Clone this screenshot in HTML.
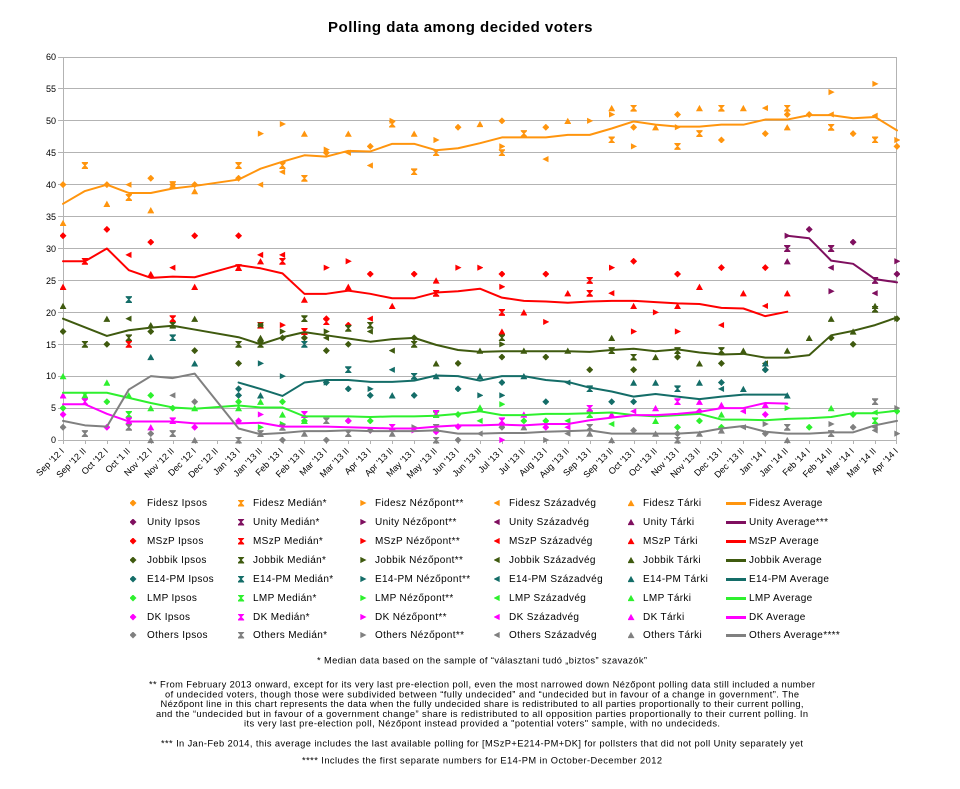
<!DOCTYPE html>
<html><head><meta charset="utf-8">
<style>
html,body{margin:0;padding:0;background:#fff}
body{width:960px;height:789px;position:relative;overflow:hidden;font-family:"Liberation Sans",Arial,sans-serif;color:#000}
.title{position:absolute;left:0;width:921px;top:18px;text-align:center;font-weight:bold;font-size:15px;letter-spacing:0.5px;line-height:19px}
.m{position:absolute;width:7px;height:7px;left:calc(59.5px + var(--i)*21.947px);top:calc(436.5px - var(--v)*6.383px)}
.g{position:absolute;width:7px;height:7px;margin:0.5px 0 0 0.5px}
.d{clip-path:polygon(50% 0,100% 50%,50% 100%,0 50%)}
.h{clip-path:polygon(5% 0,95% 0,95% 15%,60% 50%,95% 85%,95% 100%,5% 100%,5% 85%,40% 50%,5% 15%)}
.r{clip-path:polygon(12% 6%,100% 50%,12% 94%)}
.l{clip-path:polygon(88% 6%,0 50%,88% 94%)}
.t{clip-path:polygon(50% 5%,100% 95%,0 95%)}
.F{background:#ff950e}.U{background:#7f0f5f}.M{background:#ff0000}.J{background:#3f5a0f}
.E{background:#146d68}.L{background:#2ef02e}.D{background:#ff00ff}.O{background:#808080}
.x{position:absolute;top:446px;left:calc(-11px + var(--i)*21.947px);width:70px;text-align:right;font-size:9px;line-height:10px;white-space:nowrap;transform-origin:100% 0;transform:rotate(-45deg)}
.y{position:absolute;left:16px;width:40px;text-align:right;font-size:9px;line-height:12px}
.lt{position:absolute;font-size:10px;letter-spacing:0.35px;line-height:13px;white-space:nowrap}
.ln{position:absolute;left:726px;width:20px;height:3px}
</style></head><body>
<div class="title">Polling data among decided voters</div>

<svg width="960" height="789" style="position:absolute;left:0;top:0">
<g stroke="#b3b3b3" stroke-width="1" fill="none">
<path d="M58 57.5H897M58 88.5H897M58 120.5H897M58 152.5H897M58 184.5H897M58 216.5H897M58 248.5H897M58 280.5H897M58 312.5H897M58 344.5H897M58 376.5H897M58 408.5H897M58 440.5H897"/>
<path d="M63.5 57V444M896.5 57V444"/>
<path d="M85.5 440v4M107.5 440v4M129.5 440v4M151.5 440v4M173.5 440v4M195.5 440v4M217.5 440v4M239.5 440v4M261.5 440v4M283.5 440v4M304.5 440v4M326.5 440v4M348.5 440v4M370.5 440v4M392.5 440v4M414.5 440v4M436.5 440v4M458.5 440v4M480.5 440v4M502.5 440v4M524.5 440v4M546.5 440v4M568.5 440v4M590.5 440v4M612.5 440v4M634.5 440v4M656.5 440v4M678.5 440v4M700.5 440v4M721.5 440v4M743.5 440v4M765.5 440v4M787.5 440v4M809.5 440v4M831.5 440v4M853.5 440v4M875.5 440v4"/>
</g>
</svg>

<div class="y" style="top:51px">60</div>
<div class="y" style="top:83px">55</div>
<div class="y" style="top:115px">50</div>
<div class="y" style="top:147px">45</div>
<div class="y" style="top:179px">40</div>
<div class="y" style="top:211px">35</div>
<div class="y" style="top:243px">30</div>
<div class="y" style="top:275px">25</div>
<div class="y" style="top:307px">20</div>
<div class="y" style="top:339px">15</div>
<div class="y" style="top:370px">10</div>
<div class="y" style="top:402px">5</div>
<div class="y" style="top:434px">0</div>

<!-- markers -->
<div>
<!-- Fidesz -->
<i class="m d F" style="--i:0;--v:40"></i><i class="m d F" style="--i:2;--v:40"></i><i class="m d F" style="--i:4;--v:41"></i><i class="m d F" style="--i:5;--v:40"></i><i class="m d F" style="--i:6;--v:40"></i><i class="m d F" style="--i:8;--v:41"></i><i class="m d F" style="--i:12;--v:45"></i><i class="m d F" style="--i:14;--v:46"></i><i class="m d F" style="--i:18;--v:49"></i><i class="m d F" style="--i:20;--v:50"></i><i class="m d F" style="--i:22;--v:49"></i><i class="m d F" style="--i:26;--v:49"></i><i class="m d F" style="--i:28;--v:51"></i><i class="m d F" style="--i:30;--v:47"></i><i class="m d F" style="--i:32;--v:48"></i><i class="m d F" style="--i:33;--v:51"></i><i class="m d F" style="--i:34;--v:51"></i><i class="m d F" style="--i:36;--v:48"></i><i class="m d F" style="--i:38;--v:46"></i>
<i class="m h F" style="--i:1;--v:43"></i><i class="m h F" style="--i:3;--v:38"></i><i class="m h F" style="--i:5;--v:40"></i><i class="m h F" style="--i:8;--v:43"></i><i class="m h F" style="--i:10;--v:43"></i><i class="m h F" style="--i:11;--v:41"></i><i class="m h F" style="--i:15;--v:49.5"></i><i class="m h F" style="--i:16;--v:42"></i><i class="m h F" style="--i:17;--v:45"></i><i class="m h F" style="--i:20;--v:45"></i><i class="m h F" style="--i:21;--v:48"></i><i class="m h F" style="--i:25;--v:47"></i><i class="m h F" style="--i:26;--v:52"></i><i class="m h F" style="--i:28;--v:46"></i><i class="m h F" style="--i:29;--v:48"></i><i class="m h F" style="--i:30;--v:52"></i><i class="m h F" style="--i:33;--v:52"></i><i class="m h F" style="--i:35;--v:49"></i><i class="m h F" style="--i:37;--v:47"></i>
<i class="m r F" style="--i:9;--v:48"></i><i class="m r F" style="--i:10;--v:49.5"></i><i class="m r F" style="--i:12;--v:45.5"></i><i class="m r F" style="--i:15;--v:50"></i><i class="m r F" style="--i:17;--v:47"></i><i class="m r F" style="--i:20;--v:46"></i><i class="m r F" style="--i:24;--v:50"></i><i class="m r F" style="--i:25;--v:51"></i><i class="m r F" style="--i:26;--v:46"></i><i class="m r F" style="--i:28;--v:49"></i><i class="m r F" style="--i:35;--v:54.5"></i><i class="m r F" style="--i:37;--v:55.8"></i><i class="m r F" style="--i:38;--v:47"></i>
<i class="m l F" style="--i:3;--v:40"></i><i class="m l F" style="--i:9;--v:40"></i><i class="m l F" style="--i:10;--v:42"></i><i class="m l F" style="--i:13;--v:45"></i><i class="m l F" style="--i:14;--v:43"></i><i class="m l F" style="--i:22;--v:44"></i><i class="m l F" style="--i:32;--v:52"></i><i class="m l F" style="--i:35;--v:51"></i><i class="m l F" style="--i:37;--v:50.8"></i>
<i class="m t F" style="--i:0;--v:34"></i><i class="m t F" style="--i:2;--v:37"></i><i class="m t F" style="--i:4;--v:36"></i><i class="m t F" style="--i:6;--v:39"></i><i class="m t F" style="--i:11;--v:48"></i><i class="m t F" style="--i:13;--v:48"></i><i class="m t F" style="--i:16;--v:48"></i><i class="m t F" style="--i:19;--v:49.5"></i><i class="m t F" style="--i:23;--v:50"></i><i class="m t F" style="--i:25;--v:52"></i><i class="m t F" style="--i:27;--v:49"></i><i class="m t F" style="--i:29;--v:52"></i><i class="m t F" style="--i:31;--v:52"></i><i class="m t F" style="--i:33;--v:49"></i>
<!-- Unity -->
<i class="m d U" style="--i:34;--v:33"></i><i class="m d U" style="--i:36;--v:31"></i><i class="m d U" style="--i:38;--v:26"></i>
<i class="m h U" style="--i:33;--v:30"></i><i class="m h U" style="--i:35;--v:30"></i><i class="m h U" style="--i:37;--v:25"></i>
<i class="m r U" style="--i:33;--v:32"></i><i class="m r U" style="--i:35;--v:23.3"></i><i class="m r U" style="--i:38;--v:28"></i>
<i class="m l U" style="--i:35;--v:27"></i><i class="m l U" style="--i:37;--v:23"></i>
<i class="m t U" style="--i:33;--v:28"></i>
<!-- MSzP -->
<i class="m d M" style="--i:0;--v:32"></i><i class="m d M" style="--i:2;--v:33"></i><i class="m d M" style="--i:4;--v:31"></i><i class="m d M" style="--i:6;--v:32"></i><i class="m d M" style="--i:8;--v:32"></i><i class="m d M" style="--i:14;--v:26"></i><i class="m d M" style="--i:16;--v:26"></i><i class="m d M" style="--i:20;--v:26"></i><i class="m d M" style="--i:22;--v:26"></i><i class="m d M" style="--i:26;--v:28"></i><i class="m d M" style="--i:28;--v:26"></i><i class="m d M" style="--i:30;--v:27"></i><i class="m d M" style="--i:32;--v:27"></i><i class="m d M" style="--i:13;--v:18"></i><i class="m d M" style="--i:12;--v:19"></i>
<i class="m h M" style="--i:1;--v:28"></i><i class="m h M" style="--i:3;--v:15"></i><i class="m h M" style="--i:5;--v:19"></i><i class="m h M" style="--i:8;--v:27"></i><i class="m h M" style="--i:9;--v:18"></i><i class="m h M" style="--i:10;--v:28"></i><i class="m h M" style="--i:11;--v:17"></i><i class="m h M" style="--i:17;--v:23"></i><i class="m h M" style="--i:20;--v:20"></i><i class="m h M" style="--i:24;--v:25"></i><i class="m h M" style="--i:24;--v:23"></i><i class="m h M" style="--i:12;--v:18.5"></i>
<i class="m r M" style="--i:10;--v:18"></i><i class="m r M" style="--i:12;--v:27"></i><i class="m r M" style="--i:13;--v:28"></i><i class="m r M" style="--i:18;--v:27"></i><i class="m r M" style="--i:19;--v:27"></i><i class="m r M" style="--i:20;--v:24"></i><i class="m r M" style="--i:22;--v:18.5"></i><i class="m r M" style="--i:25;--v:27"></i><i class="m r M" style="--i:26;--v:17"></i><i class="m r M" style="--i:27;--v:20"></i><i class="m r M" style="--i:28;--v:17"></i>
<i class="m l M" style="--i:3;--v:29"></i><i class="m l M" style="--i:5;--v:27"></i><i class="m l M" style="--i:9;--v:29"></i><i class="m l M" style="--i:10;--v:29"></i><i class="m l M" style="--i:14;--v:19"></i><i class="m l M" style="--i:30;--v:18"></i><i class="m l M" style="--i:32;--v:21"></i><i class="m l M" style="--i:25;--v:23"></i>
<i class="m t M" style="--i:0;--v:24"></i><i class="m t M" style="--i:4;--v:26"></i><i class="m t M" style="--i:6;--v:24"></i><i class="m t M" style="--i:8;--v:27"></i><i class="m t M" style="--i:9;--v:28"></i><i class="m t M" style="--i:11;--v:22"></i><i class="m t M" style="--i:13;--v:24"></i><i class="m t M" style="--i:15;--v:21"></i><i class="m t M" style="--i:17;--v:25"></i><i class="m t M" style="--i:21;--v:20"></i><i class="m t M" style="--i:23;--v:23"></i><i class="m t M" style="--i:26;--v:21"></i><i class="m t M" style="--i:28;--v:21"></i><i class="m t M" style="--i:29;--v:24"></i><i class="m t M" style="--i:31;--v:23"></i><i class="m t M" style="--i:33;--v:23"></i><i class="m t M" style="--i:20;--v:17"></i>
<!-- Jobbik -->
<i class="m d J" style="--i:0;--v:17"></i><i class="m d J" style="--i:2;--v:15"></i><i class="m d J" style="--i:4;--v:17"></i><i class="m d J" style="--i:6;--v:14"></i><i class="m d J" style="--i:8;--v:12"></i><i class="m d J" style="--i:10;--v:16"></i><i class="m d J" style="--i:11;--v:16"></i><i class="m d J" style="--i:12;--v:14"></i><i class="m d J" style="--i:13;--v:15"></i><i class="m d J" style="--i:16;--v:16"></i><i class="m d J" style="--i:18;--v:12"></i><i class="m d J" style="--i:20;--v:13"></i><i class="m d J" style="--i:22;--v:13"></i><i class="m d J" style="--i:24;--v:11"></i><i class="m d J" style="--i:26;--v:11"></i><i class="m d J" style="--i:28;--v:13"></i><i class="m d J" style="--i:30;--v:12"></i><i class="m d J" style="--i:32;--v:11"></i><i class="m d J" style="--i:35;--v:16"></i><i class="m d J" style="--i:36;--v:15"></i><i class="m d J" style="--i:38;--v:19"></i>
<i class="m h J" style="--i:1;--v:15"></i><i class="m h J" style="--i:3;--v:16"></i><i class="m h J" style="--i:5;--v:18"></i><i class="m h J" style="--i:8;--v:15"></i><i class="m h J" style="--i:9;--v:15"></i><i class="m h J" style="--i:11;--v:19"></i><i class="m h J" style="--i:13;--v:17.5"></i><i class="m h J" style="--i:14;--v:18"></i><i class="m h J" style="--i:16;--v:15"></i><i class="m h J" style="--i:20;--v:16"></i><i class="m h J" style="--i:25;--v:14"></i><i class="m h J" style="--i:26;--v:13"></i><i class="m h J" style="--i:28;--v:14"></i><i class="m h J" style="--i:30;--v:14"></i><i class="m h J" style="--i:37;--v:20.5"></i>
<i class="m r J" style="--i:9;--v:18"></i><i class="m r J" style="--i:10;--v:17"></i><i class="m r J" style="--i:12;--v:17"></i><i class="m r J" style="--i:20;--v:15"></i><i class="m r J" style="--i:38;--v:19"></i>
<i class="m l J" style="--i:3;--v:19"></i><i class="m l J" style="--i:9;--v:18"></i><i class="m l J" style="--i:12;--v:16"></i><i class="m l J" style="--i:14;--v:17"></i><i class="m l J" style="--i:15;--v:14"></i><i class="m l J" style="--i:32;--v:12"></i>
<i class="m t J" style="--i:0;--v:21"></i><i class="m t J" style="--i:2;--v:19"></i><i class="m t J" style="--i:4;--v:18"></i><i class="m t J" style="--i:6;--v:19"></i><i class="m t J" style="--i:9;--v:16"></i><i class="m t J" style="--i:17;--v:12"></i><i class="m t J" style="--i:19;--v:14"></i><i class="m t J" style="--i:21;--v:14"></i><i class="m t J" style="--i:23;--v:14"></i><i class="m t J" style="--i:25;--v:16"></i><i class="m t J" style="--i:27;--v:13"></i><i class="m t J" style="--i:29;--v:12"></i><i class="m t J" style="--i:31;--v:14"></i><i class="m t J" style="--i:33;--v:14"></i><i class="m t J" style="--i:34;--v:16"></i><i class="m t J" style="--i:35;--v:19"></i><i class="m t J" style="--i:36;--v:17"></i><i class="m t J" style="--i:37;--v:21"></i>
<!-- E14-PM -->
<i class="m d E" style="--i:8;--v:8"></i><i class="m d E" style="--i:8;--v:7"></i><i class="m d E" style="--i:12;--v:9"></i><i class="m d E" style="--i:13;--v:8"></i><i class="m d E" style="--i:14;--v:7"></i><i class="m d E" style="--i:16;--v:7"></i><i class="m d E" style="--i:18;--v:8"></i><i class="m d E" style="--i:20;--v:9"></i><i class="m d E" style="--i:22;--v:6"></i><i class="m d E" style="--i:25;--v:6"></i><i class="m d E" style="--i:26;--v:6"></i><i class="m d E" style="--i:30;--v:9"></i><i class="m d E" style="--i:32;--v:11"></i>
<i class="m h E" style="--i:3;--v:22"></i><i class="m h E" style="--i:5;--v:16"></i><i class="m h E" style="--i:11;--v:15"></i><i class="m h E" style="--i:13;--v:11"></i><i class="m h E" style="--i:16;--v:10"></i><i class="m h E" style="--i:24;--v:8"></i><i class="m h E" style="--i:28;--v:8"></i>
<i class="m r E" style="--i:9;--v:12"></i><i class="m r E" style="--i:10;--v:10"></i><i class="m r E" style="--i:12;--v:9"></i><i class="m r E" style="--i:14;--v:8"></i><i class="m r E" style="--i:19;--v:7"></i><i class="m r E" style="--i:20;--v:7"></i>
<i class="m l E" style="--i:15;--v:11"></i><i class="m l E" style="--i:23;--v:9"></i><i class="m l E" style="--i:30;--v:8"></i>
<i class="m t E" style="--i:4;--v:13"></i><i class="m t E" style="--i:6;--v:12"></i><i class="m t E" style="--i:9;--v:7"></i><i class="m t E" style="--i:15;--v:7"></i><i class="m t E" style="--i:17;--v:10"></i><i class="m t E" style="--i:19;--v:10"></i><i class="m t E" style="--i:21;--v:10"></i><i class="m t E" style="--i:26;--v:9"></i><i class="m t E" style="--i:27;--v:9"></i><i class="m t E" style="--i:29;--v:9"></i><i class="m t E" style="--i:31;--v:8"></i><i class="m t E" style="--i:32;--v:12"></i><i class="m t E" style="--i:33;--v:7"></i>
<!-- LMP -->
<i class="m d L" style="--i:0;--v:5"></i><i class="m d L" style="--i:2;--v:6"></i><i class="m d L" style="--i:4;--v:7"></i><i class="m d L" style="--i:5;--v:5"></i><i class="m d L" style="--i:8;--v:6"></i><i class="m d L" style="--i:10;--v:6"></i><i class="m d L" style="--i:13;--v:3"></i><i class="m d L" style="--i:14;--v:3"></i><i class="m d L" style="--i:18;--v:4"></i><i class="m d L" style="--i:22;--v:3"></i><i class="m d L" style="--i:28;--v:2"></i><i class="m d L" style="--i:29;--v:3"></i><i class="m d L" style="--i:30;--v:2"></i><i class="m d L" style="--i:34;--v:2"></i><i class="m d L" style="--i:36;--v:4"></i><i class="m d L" style="--i:38;--v:4.5"></i><i class="m d L" style="--i:11;--v:3"></i><i class="m d L" style="--i:21;--v:3"></i>
<i class="m h L" style="--i:1;--v:7"></i><i class="m h L" style="--i:3;--v:4"></i><i class="m h L" style="--i:24;--v:4"></i><i class="m h L" style="--i:37;--v:3"></i><i class="m h L" style="--i:17;--v:4"></i>
<i class="m r L" style="--i:9;--v:2"></i><i class="m r L" style="--i:10;--v:2.5"></i><i class="m r L" style="--i:20;--v:5.6"></i><i class="m r L" style="--i:33;--v:5"></i>
<i class="m l L" style="--i:19;--v:3"></i><i class="m l L" style="--i:23;--v:3"></i><i class="m l L" style="--i:25;--v:2.5"></i><i class="m l L" style="--i:37;--v:4.3"></i>
<i class="m t L" style="--i:0;--v:10"></i><i class="m t L" style="--i:1;--v:7"></i><i class="m t L" style="--i:2;--v:9"></i><i class="m t L" style="--i:3;--v:7"></i><i class="m t L" style="--i:4;--v:5"></i><i class="m t L" style="--i:6;--v:5"></i><i class="m t L" style="--i:8;--v:5"></i><i class="m t L" style="--i:9;--v:6"></i><i class="m t L" style="--i:10;--v:4"></i><i class="m t L" style="--i:11;--v:3"></i><i class="m t L" style="--i:19;--v:5.1"></i><i class="m t L" style="--i:27;--v:3"></i><i class="m t L" style="--i:30;--v:4"></i><i class="m t L" style="--i:35;--v:5"></i>
<!-- DK -->
<i class="m d D" style="--i:0;--v:4"></i><i class="m d D" style="--i:2;--v:2"></i><i class="m d D" style="--i:6;--v:2"></i><i class="m d D" style="--i:8;--v:3"></i><i class="m d D" style="--i:13;--v:3"></i><i class="m d D" style="--i:14;--v:1.5"></i><i class="m d D" style="--i:17;--v:1.3"></i><i class="m d D" style="--i:18;--v:2.1"></i><i class="m d D" style="--i:22;--v:2"></i><i class="m d D" style="--i:29;--v:4.5"></i><i class="m d D" style="--i:32;--v:4"></i>
<i class="m h D" style="--i:1;--v:6"></i><i class="m h D" style="--i:3;--v:3"></i><i class="m h D" style="--i:5;--v:3"></i><i class="m h D" style="--i:11;--v:4"></i><i class="m h D" style="--i:15;--v:2"></i><i class="m h D" style="--i:17;--v:4.2"></i><i class="m h D" style="--i:20;--v:3"></i><i class="m h D" style="--i:24;--v:5"></i><i class="m h D" style="--i:28;--v:6"></i>
<i class="m r D" style="--i:9;--v:4"></i><i class="m r D" style="--i:16;--v:1.5"></i><i class="m r D" style="--i:20;--v:0"></i>
<i class="m l D" style="--i:23;--v:2"></i><i class="m l D" style="--i:26;--v:4.5"></i><i class="m l D" style="--i:31;--v:4.5"></i>
<i class="m t D" style="--i:0;--v:7"></i><i class="m t D" style="--i:4;--v:2"></i><i class="m t D" style="--i:21;--v:4"></i><i class="m t D" style="--i:25;--v:4"></i><i class="m t D" style="--i:27;--v:5"></i><i class="m t D" style="--i:29;--v:6"></i><i class="m t D" style="--i:30;--v:5.5"></i><i class="m t D" style="--i:32;--v:5.5"></i>
<!-- Others -->
<i class="m d O" style="--i:0;--v:2"></i><i class="m d O" style="--i:4;--v:1"></i><i class="m d O" style="--i:6;--v:6"></i><i class="m d O" style="--i:10;--v:0"></i><i class="m d O" style="--i:12;--v:0"></i><i class="m d O" style="--i:14;--v:1.5"></i><i class="m d O" style="--i:18;--v:0"></i><i class="m d O" style="--i:20;--v:2"></i><i class="m d O" style="--i:26;--v:1.5"></i><i class="m d O" style="--i:28;--v:1"></i><i class="m d O" style="--i:32;--v:1"></i><i class="m d O" style="--i:36;--v:2"></i>
<i class="m h O" style="--i:1;--v:1"></i><i class="m h O" style="--i:3;--v:2"></i><i class="m h O" style="--i:5;--v:1"></i><i class="m h O" style="--i:8;--v:0"></i><i class="m h O" style="--i:9;--v:1"></i><i class="m h O" style="--i:10;--v:2"></i><i class="m h O" style="--i:12;--v:3"></i><i class="m h O" style="--i:13;--v:1"></i><i class="m h O" style="--i:17;--v:2"></i><i class="m h O" style="--i:17;--v:0"></i><i class="m h O" style="--i:24;--v:2"></i><i class="m h O" style="--i:28;--v:0"></i><i class="m h O" style="--i:33;--v:2"></i><i class="m h O" style="--i:35;--v:1"></i><i class="m h O" style="--i:37;--v:6"></i>
<i class="m r O" style="--i:16;--v:2"></i><i class="m r O" style="--i:22;--v:0"></i><i class="m r O" style="--i:32;--v:2.5"></i><i class="m r O" style="--i:35;--v:2.5"></i><i class="m r O" style="--i:38;--v:5"></i><i class="m r O" style="--i:38;--v:1"></i>
<i class="m l O" style="--i:5;--v:7"></i><i class="m l O" style="--i:19;--v:1"></i><i class="m l O" style="--i:23;--v:1"></i><i class="m l O" style="--i:31;--v:2"></i><i class="m l O" style="--i:37;--v:2"></i><i class="m l O" style="--i:37;--v:1.5"></i>
<i class="m t O" style="--i:4;--v:0"></i><i class="m t O" style="--i:6;--v:0"></i><i class="m t O" style="--i:11;--v:1"></i><i class="m t O" style="--i:15;--v:1"></i><i class="m t O" style="--i:21;--v:2"></i><i class="m t O" style="--i:24;--v:1"></i><i class="m t O" style="--i:25;--v:0"></i><i class="m t O" style="--i:27;--v:1"></i><i class="m t O" style="--i:29;--v:1"></i><i class="m t O" style="--i:30;--v:1.5"></i><i class="m t O" style="--i:33;--v:0"></i>
</div>

<!-- average lines -->
<svg style="position:absolute;left:63px;top:57px;overflow:visible" width="834" height="383" viewBox="0 -60 38 60" preserveAspectRatio="none">
<g fill="none" stroke-width="2" stroke-linejoin="round" stroke-linecap="round">
<polyline vector-effect="non-scaling-stroke" stroke="#ff950e" points="0,-37 1,-39 2,-40 3,-38.7 4,-38.7 5,-39.4 6,-39.8 8,-40.8 9,-42.5 10,-43.6 11,-44.6 12,-44.4 13,-45.3 14,-45.2 15,-46.4 16,-46.4 17,-45.4 18,-45.7 19,-46.5 20,-47.4 21,-47.4 22,-47.4 23,-47.8 24,-47.8 25,-48.8 26,-49.9 27,-49.4 28,-49.1 29,-49.1 30,-49.4 31,-49.4 32,-50.2 33,-50.2 34,-50.9 35,-50.9 36,-50.4 37,-50.6 38,-48.5"/>
<polyline vector-effect="non-scaling-stroke" stroke="#7f0f5f" points="33,-32 34,-31.6 35,-28.1 36,-27.6 37,-25.2 38,-24.7"/>
<polyline vector-effect="non-scaling-stroke" stroke="#ff0000" points="0,-28 1,-28 2,-30 3,-26.6 4,-25.4 5,-25.6 6,-25.5 8,-27.4 9,-26.9 10,-26.1 11,-22.9 12,-22.9 13,-23.4 14,-22.9 15,-22.2 16,-22.2 17,-23.1 18,-23.3 19,-23.7 20,-22.3 21,-21.8 22,-21.7 23,-21.5 24,-21.7 25,-21.8 26,-21.8 27,-21.6 28,-21.4 29,-21.3 30,-20.7 31,-20.6 32,-19.4 33,-20.1"/>
<polyline vector-effect="non-scaling-stroke" stroke="#3f5a0f" points="0,-19 2,-16.3 3,-17.2 4,-17.6 5,-17.9 6,-17.3 8,-16.1 9,-15 10,-16.1 11,-16.9 12,-16.4 13,-15.9 14,-15.4 15,-15.8 16,-16 17,-14.9 18,-14.1 19,-13.8 20,-13.9 21,-13.9 22,-13.9 23,-13.9 24,-13.8 25,-14.1 26,-14.3 27,-13.9 28,-14.2 29,-13.7 30,-13.4 31,-13.5 32,-12.9 33,-12.9 34,-13.3 35,-16.4 36,-17.1 37,-18 38,-19.2"/>
<polyline vector-effect="non-scaling-stroke" stroke="#146d68" points="8,-9 9,-8 10,-6.9 11,-9 12,-9.4 13,-9.4 14,-9.1 15,-9.1 16,-9.3 17,-10.1 18,-10 19,-9.3 20,-10 21,-10 22,-9.4 23,-9.1 24,-8.2 25,-7.6 26,-6.8 27,-7.2 28,-6.8 29,-6.4 30,-6.8 31,-7.1 32,-7.1 33,-7.1"/>
<polyline vector-effect="non-scaling-stroke" stroke="#2ef02e" points="0,-7.4 1,-7.4 2,-7.4 3,-6.6 4,-5.8 5,-5.1 6,-4.9 8,-5.4 9,-5.1 10,-5.1 11,-3.7 12,-3.7 13,-3.7 14,-3.6 15,-3.7 16,-3.7 17,-3.8 18,-4.1 19,-4.5 20,-3.9 21,-3.9 22,-4.1 23,-4.1 24,-4.2 25,-4.3 26,-3.9 27,-3.7 28,-3.9 29,-4.1 30,-3.2 31,-3.2 32,-3.1 33,-3.3 34,-3.4 35,-3.6 36,-4.2 37,-4.2 38,-4.6"/>
<polyline vector-effect="non-scaling-stroke" stroke="#ff00ff" points="0,-5.6 1,-5.6 2,-4.1 3,-2.9 4,-2.9 5,-2.9 6,-2.6 8,-2.6 9,-2.7 10,-2.1 11,-2.1 12,-2.1 13,-2 14,-1.9 15,-1.8 16,-1.8 17,-2.1 18,-2.3 19,-2.3 20,-2.4 21,-2.3 22,-2.5 23,-2.5 24,-3.1 25,-3.5 26,-3.9 27,-3.9 28,-4.1 29,-4.4 30,-5 31,-5 32,-5.8 33,-5.7"/>
<polyline vector-effect="non-scaling-stroke" stroke="#808080" points="0,-3 1,-2.3 2,-2.1 3,-7.9 4,-10 5,-9.7 6,-10.4 8,-1.8 9,-0.9 10,-1.1 11,-1.4 12,-1.4 13,-1.5 14,-1.4 15,-1.4 16,-1.4 17,-1.5 18,-1 19,-1 20,-1.1 21,-1.1 22,-1.3 23,-1.4 24,-1.5 25,-1 26,-1 27,-1 28,-1 29,-1.2 30,-1.8 31,-2.2 32,-1.3 33,-1 34,-1 35,-1.2 36,-1.2 37,-2.3 38,-3"/>
</g>
</svg>

<!-- x labels -->
<div class="x" style="--i:0">Sep '12 I</div><div class="x" style="--i:1">Sep '12 II</div><div class="x" style="--i:2">Oct '12 I</div><div class="x" style="--i:3">Oct '1 II</div><div class="x" style="--i:4">Nov '12 I</div><div class="x" style="--i:5">Nov '12 II</div><div class="x" style="--i:6">Dec '12 I</div><div class="x" style="--i:7">Dec '12 II</div><div class="x" style="--i:8">Jan '13 I</div><div class="x" style="--i:9">Jan '13 II</div><div class="x" style="--i:10">Feb '13 I</div><div class="x" style="--i:11">Feb '13 II</div><div class="x" style="--i:12">Mar '13 I</div><div class="x" style="--i:13">Mar '13 II</div><div class="x" style="--i:14">Apr '13 I</div><div class="x" style="--i:15">Apr '13 II</div><div class="x" style="--i:16">May '13 I</div><div class="x" style="--i:17">May '13 II</div><div class="x" style="--i:18">Jun '13 I</div><div class="x" style="--i:19">Jun '13 II</div><div class="x" style="--i:20">Jul '13 I</div><div class="x" style="--i:21">Jul '13 II</div><div class="x" style="--i:22">Aug '13 I</div><div class="x" style="--i:23">Aug '13 II</div><div class="x" style="--i:24">Sep '13 I</div><div class="x" style="--i:25">Sep '13 II</div><div class="x" style="--i:26">Oct '13 I</div><div class="x" style="--i:27">Oct '13 II</div><div class="x" style="--i:28">Nov '13 I</div><div class="x" style="--i:29">Nov '13 II</div><div class="x" style="--i:30">Dec '13 I</div><div class="x" style="--i:31">Dec '13 II</div><div class="x" style="--i:32">Jan '14 I</div><div class="x" style="--i:33">Jan '14 II</div><div class="x" style="--i:34">Feb '14 I</div><div class="x" style="--i:35">Feb '14 II</div><div class="x" style="--i:36">Mar '14 I</div><div class="x" style="--i:37">Mar '14 II</div><div class="x" style="--i:38">Apr '14 I</div>

<!-- legend -->
<div>
<i class="g d F" style="left:129px;top:499px"></i><div class="lt" style="left:147px;top:497px">Fidesz Ipsos</div>
<i class="g h F" style="left:237px;top:499px"></i><div class="lt" style="left:253px;top:497px">Fidesz Medián*</div>
<i class="g r F" style="left:359px;top:499px"></i><div class="lt" style="left:375px;top:497px">Fidesz Nézőpont**</div>
<i class="g l F" style="left:493px;top:499px"></i><div class="lt" style="left:509px;top:497px">Fidesz Századvég</div>
<i class="g t F" style="left:627px;top:499px"></i><div class="lt" style="left:643px;top:497px">Fidesz Tárki</div>
<div class="ln F" style="top:502px"></div><div class="lt" style="left:749px;top:497px">Fidesz Average</div>

<i class="g d U" style="left:129px;top:518px"></i><div class="lt" style="left:147px;top:516px">Unity Ipsos</div>
<i class="g h U" style="left:237px;top:518px"></i><div class="lt" style="left:253px;top:516px">Unity Medián*</div>
<i class="g r U" style="left:359px;top:518px"></i><div class="lt" style="left:375px;top:516px">Unity Nézőpont**</div>
<i class="g l U" style="left:493px;top:518px"></i><div class="lt" style="left:509px;top:516px">Unity Századvég</div>
<i class="g t U" style="left:627px;top:518px"></i><div class="lt" style="left:643px;top:516px">Unity Tárki</div>
<div class="ln U" style="top:521px"></div><div class="lt" style="left:749px;top:516px">Unity Average***</div>

<i class="g d M" style="left:129px;top:537px"></i><div class="lt" style="left:147px;top:535px">MSzP Ipsos</div>
<i class="g h M" style="left:237px;top:537px"></i><div class="lt" style="left:253px;top:535px">MSzP Medián*</div>
<i class="g r M" style="left:359px;top:537px"></i><div class="lt" style="left:375px;top:535px">MSzP Nézőpont**</div>
<i class="g l M" style="left:493px;top:537px"></i><div class="lt" style="left:509px;top:535px">MSzP Századvég</div>
<i class="g t M" style="left:627px;top:537px"></i><div class="lt" style="left:643px;top:535px">MSzP Tárki</div>
<div class="ln M" style="top:540px"></div><div class="lt" style="left:749px;top:535px">MSzP Average</div>

<i class="g d J" style="left:129px;top:556px"></i><div class="lt" style="left:147px;top:554px">Jobbik Ipsos</div>
<i class="g h J" style="left:237px;top:556px"></i><div class="lt" style="left:253px;top:554px">Jobbik Medián*</div>
<i class="g r J" style="left:359px;top:556px"></i><div class="lt" style="left:375px;top:554px">Jobbik Nézőpont**</div>
<i class="g l J" style="left:493px;top:556px"></i><div class="lt" style="left:509px;top:554px">Jobbik Századvég</div>
<i class="g t J" style="left:627px;top:556px"></i><div class="lt" style="left:643px;top:554px">Jobbik Tárki</div>
<div class="ln J" style="top:559px"></div><div class="lt" style="left:749px;top:554px">Jobbik Average</div>

<i class="g d E" style="left:129px;top:575px"></i><div class="lt" style="left:147px;top:573px">E14-PM Ipsos</div>
<i class="g h E" style="left:237px;top:575px"></i><div class="lt" style="left:253px;top:573px">E14-PM Medián*</div>
<i class="g r E" style="left:359px;top:575px"></i><div class="lt" style="left:375px;top:573px">E14-PM Nézőpont**</div>
<i class="g l E" style="left:493px;top:575px"></i><div class="lt" style="left:509px;top:573px">E14-PM Századvég</div>
<i class="g t E" style="left:627px;top:575px"></i><div class="lt" style="left:643px;top:573px">E14-PM Tárki</div>
<div class="ln E" style="top:578px"></div><div class="lt" style="left:749px;top:573px">E14-PM Average</div>

<i class="g d L" style="left:129px;top:594px"></i><div class="lt" style="left:147px;top:592px">LMP Ipsos</div>
<i class="g h L" style="left:237px;top:594px"></i><div class="lt" style="left:253px;top:592px">LMP Medián*</div>
<i class="g r L" style="left:359px;top:594px"></i><div class="lt" style="left:375px;top:592px">LMP Nézőpont**</div>
<i class="g l L" style="left:493px;top:594px"></i><div class="lt" style="left:509px;top:592px">LMP Századvég</div>
<i class="g t L" style="left:627px;top:594px"></i><div class="lt" style="left:643px;top:592px">LMP Tárki</div>
<div class="ln L" style="top:597px"></div><div class="lt" style="left:749px;top:592px">LMP Average</div>

<i class="g d D" style="left:129px;top:613px"></i><div class="lt" style="left:147px;top:611px">DK Ipsos</div>
<i class="g h D" style="left:237px;top:613px"></i><div class="lt" style="left:253px;top:611px">DK Medián*</div>
<i class="g r D" style="left:359px;top:613px"></i><div class="lt" style="left:375px;top:611px">DK Nézőpont**</div>
<i class="g l D" style="left:493px;top:613px"></i><div class="lt" style="left:509px;top:611px">DK Századvég</div>
<i class="g t D" style="left:627px;top:613px"></i><div class="lt" style="left:643px;top:611px">DK Tárki</div>
<div class="ln D" style="top:616px"></div><div class="lt" style="left:749px;top:611px">DK Average</div>

<i class="g d O" style="left:129px;top:631px"></i><div class="lt" style="left:147px;top:629px">Others Ipsos</div>
<i class="g h O" style="left:237px;top:631px"></i><div class="lt" style="left:253px;top:629px">Others Medián*</div>
<i class="g r O" style="left:359px;top:631px"></i><div class="lt" style="left:375px;top:629px">Others Nézőpont**</div>
<i class="g l O" style="left:493px;top:631px"></i><div class="lt" style="left:509px;top:629px">Others Századvég</div>
<i class="g t O" style="left:627px;top:631px"></i><div class="lt" style="left:643px;top:629px">Others Tárki</div>
<div class="ln O" style="top:634px"></div><div class="lt" style="left:749px;top:629px">Others Average****</div>
</div>

<!-- notes -->
<svg width="960" height="789" style="position:absolute;left:0;top:0">
<g font-family="Liberation Sans, Arial, sans-serif" font-size="9.3" text-anchor="middle" fill="#000">
<text x="482" y="663.5" textLength="330" lengthAdjust="spacing">* Median data based on the sample of “választani tudó „biztos” szavazók”</text>
<text x="482" y="687.5" textLength="666" lengthAdjust="spacing">** From February 2013 onward, except for its very last pre-election poll, even the most narrowed down Nézőpont polling data still included a number</text>
<text x="482" y="697.3" textLength="634" lengthAdjust="spacing">of undecided voters, though those were subdivided between “fully undecided” and “undecided but in favour of a change in government”. The</text>
<text x="482" y="707.1" textLength="643" lengthAdjust="spacing">Nézőpont line in this chart represents the data when the fully undecided share is redistributed to all parties proportionally to their current polling,</text>
<text x="482" y="716.9" textLength="652" lengthAdjust="spacing">and the “undecided but in favour of a government change” share is redistributed to all opposition parties proportionally to their current polling. In</text>
<text x="482" y="726.7" textLength="476" lengthAdjust="spacing">its very last pre-election poll, Nézőpont instead provided a "potential voters" sample, with no undecideds.</text>
<text x="482" y="746.5" textLength="642" lengthAdjust="spacing">*** In Jan-Feb 2014, this average includes the last available polling for [MSzP+E214-PM+DK] for pollsters that did not poll Unity separately yet</text>
<text x="482" y="763.5" textLength="360" lengthAdjust="spacing">**** Includes the first separate numbers for E14-PM in October-December 2012</text>
</g>
</svg>
</body></html>
